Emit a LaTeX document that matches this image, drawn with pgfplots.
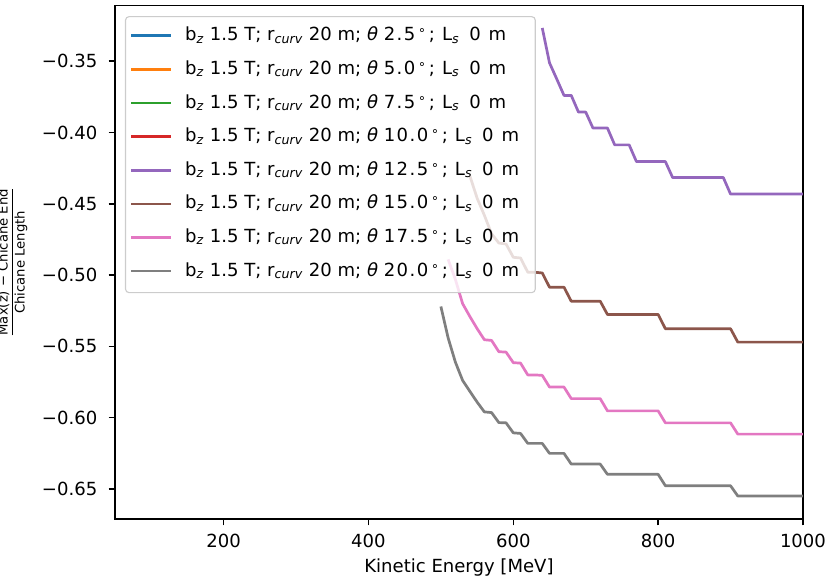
\documentclass[border=0pt]{standalone}
\usepackage{fontspec}
\setmainfont{DejaVu Sans}
\usepackage{pgfplots}
\pgfplotsset{compat=1.18}

\definecolor{c0}{HTML}{1F77B4}
\definecolor{c1}{HTML}{FF7F0E}
\definecolor{c2}{HTML}{2CA02C}
\definecolor{c3}{HTML}{D62728}
\definecolor{c4}{HTML}{9467BD}
\definecolor{c5}{HTML}{8C564B}
\definecolor{c6}{HTML}{E377C2}
\definecolor{c7}{HTML}{7F7F7F}

\newcommand{\sub}[1]{\textsubscript{\textit{#1}}}
\newcommand{\lab}[1]{b\sub{z} 1.5 T; r\sub{curv} 20 m; \textit{θ} {\addfontfeatures{LetterSpace=8}#1}\hspace{2pt}\textsuperscript{∘}\hspace{1.5pt};\hspace{1pt} L\sub{s}\hspace{3pt} 0\hspace{1.5pt} m\hspace*{8.6pt}}

% theta 12.5
\pgfplotstableread{
E y
640 -0.3267
650 -0.3512
660 -0.3625
670 -0.3740
680 -0.3740
690 -0.3857
700 -0.3857
710 -0.3969
720 -0.3969
730 -0.3969
740 -0.4087
750 -0.4087
760 -0.4087
770 -0.4204
780 -0.4204
790 -0.4204
800 -0.4204
810 -0.4204
820 -0.4316
830 -0.4316
840 -0.4316
850 -0.4316
860 -0.4316
870 -0.4316
880 -0.4316
890 -0.4316
900 -0.4432
950 -0.4432
1000 -0.4432
}\tdoze
% theta 15.0
\pgfplotstableread{
E y
540 -0.4304
550 -0.4460
560 -0.4580
570 -0.4710
580 -0.4775
590 -0.4782
600 -0.4875
610 -0.4880
620 -0.4980
630 -0.4980
640 -0.4985
650 -0.5085
660 -0.5085
670 -0.5085
680 -0.5183
690 -0.5183
700 -0.5183
710 -0.5183
720 -0.5183
730 -0.5276
740 -0.5276
760 -0.5276
780 -0.5276
800 -0.5276
810 -0.5376
850 -0.5376
900 -0.5376
910 -0.5470
950 -0.5470
1000 -0.5470
}\tquince
% theta 17.5
\pgfplotstableread{
E y
510 -0.4890
520 -0.5030
530 -0.5200
540 -0.5290
550 -0.5375
560 -0.5453
570 -0.5458
580 -0.5537
590 -0.5540
600 -0.5614
610 -0.5617
620 -0.5700
630 -0.5700
640 -0.5703
650 -0.5785
660 -0.5785
670 -0.5785
680 -0.5866
700 -0.5866
720 -0.5866
730 -0.5952
760 -0.5952
800 -0.5952
810 -0.6036
850 -0.6036
900 -0.6036
910 -0.6115
950 -0.6115
1000 -0.6115
}\tdiecisiete
% theta 20.0
\pgfplotstableread{
E y
500 -0.5220
510 -0.5440
520 -0.5610
530 -0.5738
540 -0.5815
550 -0.5890
560 -0.5959
570 -0.5964
580 -0.6034
590 -0.6036
600 -0.6106
610 -0.6110
620 -0.6180
630 -0.6180
640 -0.6180
650 -0.6250
660 -0.6250
670 -0.6250
680 -0.6325
700 -0.6325
720 -0.6325
730 -0.6397
760 -0.6397
800 -0.6397
810 -0.6477
850 -0.6477
900 -0.6477
910 -0.6549
950 -0.6549
1000 -0.6549
}\tveinte

\begin{document}
\begin{tikzpicture}
\begin{axis}[
    scale only axis,
    width=495.4pt, height=369.7pt,
    xmin=50, xmax=1000,
    ymin=-0.671, ymax=-0.311,
    axis line style={line width=1.04pt},
    tick style={line width=1.04pt, black},
    major tick length=4.55pt,
    tick align=outside,
    xtick pos=bottom, ytick pos=left,
    xtick={200,400,600,800,1000},
    xticklabels={200,400,600,800,1000},
    ytick={-0.65,-0.60,-0.55,-0.50,-0.45,-0.40,-0.35},
    yticklabels={−0.65,−0.60,−0.55,−0.50,−0.45,−0.40,−0.35},
    ticklabel style={font=\fontsize{13}{15}\selectfont},
    xticklabel style={anchor=north, inner sep=0pt, yshift=-6pt},
    yticklabel style={anchor=east, inner sep=0pt, xshift=-8pt},
    legend cell align=left,
    legend image code/.code={\draw[#1, line width=1.95pt] (0pt,3.6pt) -- (29pt,3.6pt); \path (38pt,3.6pt);},
    legend style={at={(0,1)}, anchor=north west, xshift=7.2pt, yshift=-7.6pt,
        draw=black!20, line width=0.8pt, fill=white, fill opacity=0.8, draw opacity=1, text opacity=1,
        rounded corners=2.5pt, inner xsep=3pt, inner ysep=8.4pt, row sep=11.7pt,
        font=\fontsize{13}{15}\selectfont,
        nodes={inner sep=0pt, text height=9pt, text depth=3.5pt, anchor=base west}},
    every axis plot/.append style={line width=1.95pt, line join=round},
]
\addlegendimage{c0}\addlegendentry{\lab{2.5}}
\addlegendimage{c1}\addlegendentry{\lab{5.0}}
\addlegendimage{c2}\addlegendentry{\lab{7.5}}
\addlegendimage{c3}\addlegendentry{\lab{10.0}}
\addplot[c4] table[x=E, y=y] {\tdoze};
\addlegendentry{\lab{12.5}}
\addplot[c5] table[x=E, y=y] {\tquince};
\addlegendentry{\lab{15.0}}
\addplot[c6] table[x=E, y=y] {\tdiecisiete};
\addlegendentry{\lab{17.5}}
\addplot[c7] table[x=E, y=y] {\tveinte};
\addlegendentry{\lab{20.0}}
\coordinate (ll) at (rel axis cs:0,0);
\coordinate (ur) at (rel axis cs:1,1);
\coordinate (ylab) at (rel axis cs:0,0.5);
\coordinate (xlab) at (rel axis cs:0.5,0);
\end{axis}
\node[font=\fontsize{13}{15}\selectfont, anchor=center] at ([yshift=-34.6pt]xlab) {Kinetic Energy [MeV]};
\node[rotate=90, anchor=base, font=\fontsize{9.5}{11}\selectfont] at ([xshift=-71.5pt]ylab)
    {$\displaystyle{\hbox{Max(z) − Chicane End}\over\hbox{Chicane Length}}$};
\pgfresetboundingbox
\path[use as bounding box] ([xshift=-82.8pt,yshift=-43.9pt]ll) rectangle ([xshift=17.3pt,yshift=4pt]ur);
\end{tikzpicture}
\end{document}
